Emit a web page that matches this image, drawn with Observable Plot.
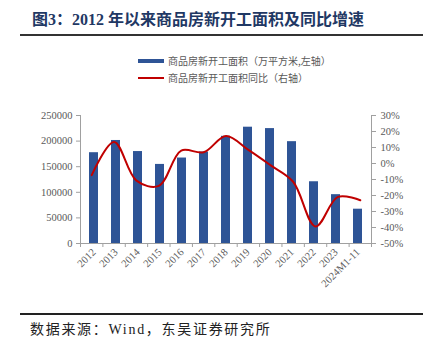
<!DOCTYPE html>
<html>
<head>
<meta charset="utf-8">
<script src="https://cdn.jsdelivr.net/npm/d3@7"></script>
<script src="https://cdn.jsdelivr.net/npm/@observablehq/plot@0.6"></script>
<style>
  html, body { margin: 0; padding: 0; background: #fff; }
  #wrap { position: relative; width: 429px; height: 353px; background: #fff; overflow: hidden; }
  #wrap > * { position: absolute; }
  .title { left: 32px; top: 10px; font: bold 16px/20px "Liberation Serif", "Noto Sans CJK SC", serif; color: #1F3864; white-space: nowrap; letter-spacing: 0px; }
  .leg { font: 10px/12px "Noto Sans CJK SC", sans-serif; color: #595959; white-space: nowrap; }
  .caption { left: 30px; top: 321px; font: 14px/18px "Liberation Serif", "Noto Sans CJK SC", serif; color: #222; white-space: nowrap; letter-spacing: 1.7px; }
</style>
</head>
<body>
<div id="wrap"></div>
<script>
// ---- data ----
const categories = ["2012","2013","2014","2015","2016","2017","2018","2019","2020","2021","2022","2023","2024M1-11"];
const newStartArea = [177334, 201208, 179592, 154454, 166928, 178654, 209342, 227154, 224433, 198895, 120587, 95376, 67000];
const yoyGrowth = [-7.3, 13.5, -10.7, -14.0, 8.1, 7.0, 17.2, 8.5, -1.2, -11.4, -39.4, -20.9, -23.0];
const leftTicks = [0, 50000, 100000, 150000, 200000, 250000];
const rightTicks = [-50, -40, -30, -20, -10, 0, 10, 20, 30];
const titleText = "图3：2012 年以来商品房新开工面积及同比增速";
const legendBar = "商品房新开工面积（万平方米,左轴）";
const legendLine = "商品房新开工面积同比（右轴）";
const captionText = "数据来源：Wind，东吴证券研究所";

const barColor = "#2E5496";
const lineColor = "#C00000";
const axisGray = "#A0A0A0";
const textGray = "#595959";

const rows = categories.map((c, i) => ({cat: c, idx: i, area: newStartArea[i], yoy: yoyGrowth[i]}));

const W = 429, H = 353;
const M = {top: 115, bottom: 110, left: 80, right: 58};
const baseStyle = {fontFamily: "'Liberation Serif', 'Times New Roman', serif", fontSize: "10.5px", color: textGray, background: "transparent", overflow: "visible"};

const wrap = document.getElementById("wrap");

// bars + left axis + category labels
const p1 = Plot.plot({
  width: W, height: H,
  marginTop: M.top, marginBottom: M.bottom, marginLeft: M.left, marginRight: M.right,
  style: baseStyle,
  x: {type: "band", domain: categories, paddingInner: 0.6, paddingOuter: 0.3},
  y: {domain: [0, 250000]},
  marks: [
    Plot.barY(rows, {x: "cat", y: "area", fill: barColor}),
    Plot.axisY({ticks: leftTicks, tickFormat: d => String(d), tickSize: 4, tickPadding: 4, stroke: axisGray, fill: textGray, label: null}),
    Plot.axisX({tickSize: 0, tickRotate: -45, tickPadding: 7, fill: textGray, label: null, fontSize: "10.5px"})
  ]
});
p1.style.left = "0px"; p1.style.top = "0px";
wrap.appendChild(p1);

// line + right axis + axis lines
const p2 = Plot.plot({
  width: W, height: H,
  marginTop: M.top, marginBottom: M.bottom, marginLeft: M.left, marginRight: M.right,
  style: baseStyle,
  x: {type: "linear", domain: [-0.5, categories.length - 0.5]},
  y: {domain: [-50, 30]},
  marks: [
    Plot.ruleX([-0.5, categories.length - 0.5], {stroke: axisGray}),
    Plot.ruleY([-50], {stroke: axisGray}),
    Plot.axisX({ticks: d3.range(-0.5, categories.length, 1), tickFormat: () => "", tickSize: 4, stroke: axisGray, label: null}),
    Plot.axisY({anchor: "right", ticks: rightTicks, tickFormat: d => d + "%", tickSize: 4, tickPadding: 5, stroke: axisGray, fill: textGray, label: null}),
    Plot.line(rows, {x: "idx", y: "yoy", stroke: lineColor, strokeWidth: 2, curve: "catmull-rom"})
  ]
});
p2.style.left = "0px"; p2.style.top = "0px";
wrap.appendChild(p2);

// HTML decorations
function add(cls, css, text) {
  const d = document.createElement("div");
  if (cls) d.className = cls;
  Object.assign(d.style, css);
  if (text) d.textContent = text;
  wrap.appendChild(d);
  return d;
}
add("title", {}, titleText);
add(null, {left: "20px", top: "34px", width: "403px", height: "2px", background: "#333"});
add(null, {left: "138px", top: "59px", width: "26px", height: "4px", background: barColor});
add("leg", {left: "168px", top: "55px"}, legendBar);
add(null, {left: "138px", top: "77px", width: "26px", height: "2px", background: lineColor});
add("leg", {left: "168px", top: "72px"}, legendLine);
add(null, {left: "20px", top: "313px", width: "403px", height: "1.5px", background: "#222"});
add("caption", {}, captionText);
</script>
</body>
</html>
